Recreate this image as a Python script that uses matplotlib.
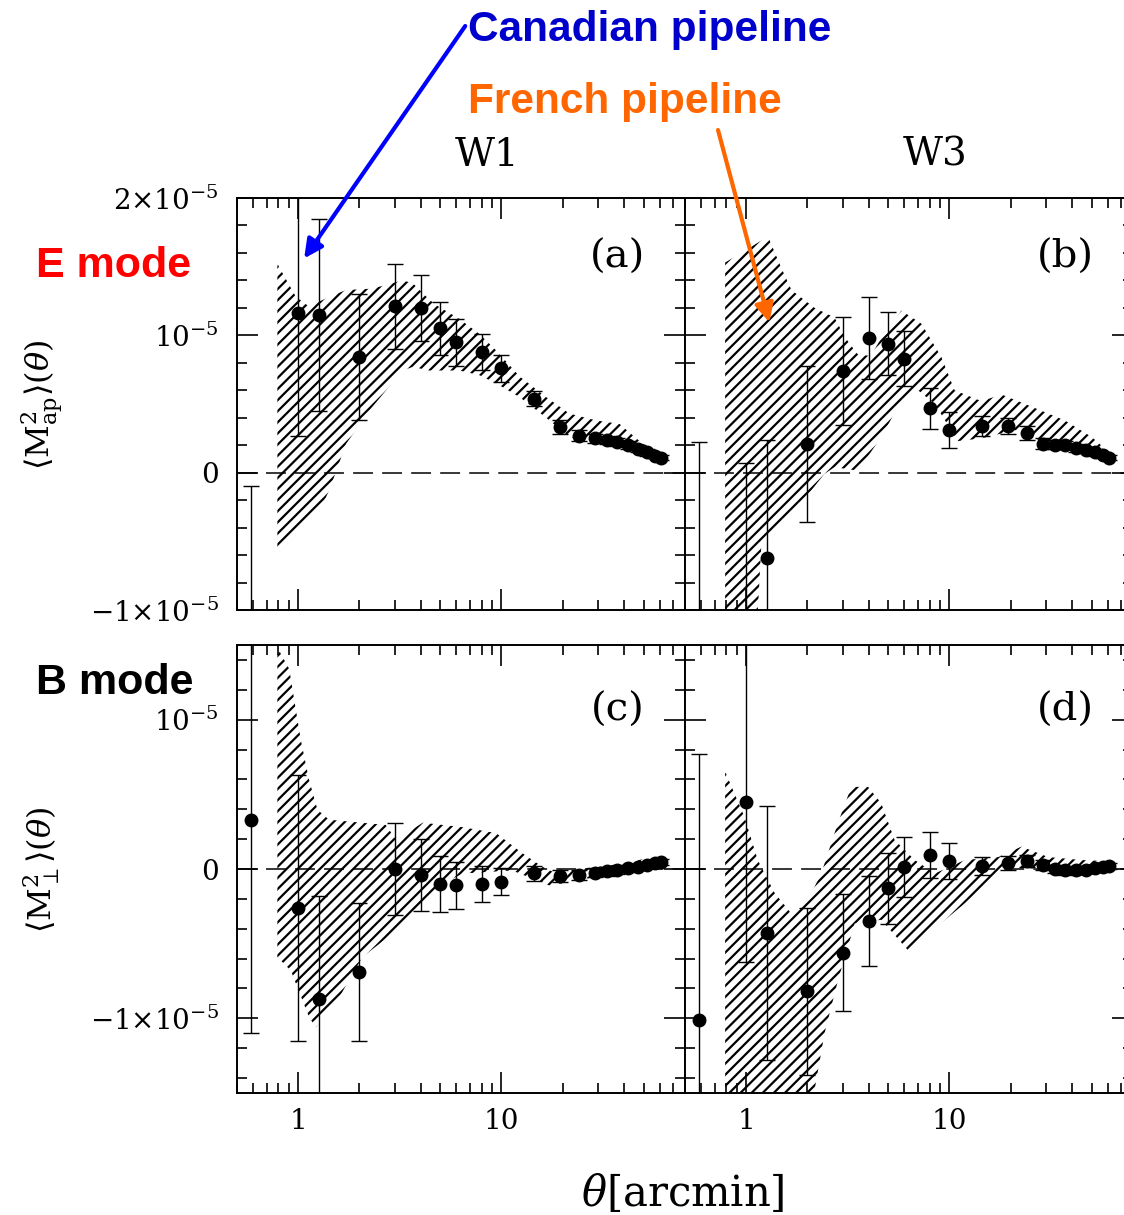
import numpy as np
import matplotlib.pyplot as plt
from matplotlib.ticker import FixedLocator, NullFormatter, FixedFormatter

plt.rcParams['font.family'] = 'DejaVu Serif'
plt.rcParams['mathtext.fontset'] = 'dejavuserif'
plt.rcParams['hatch.linewidth'] = 1.6

SCALE = 1e-5

# Canadian pipeline points (same theta grid in all four panels), units of 1e-5
theta = [0.585, 1.0, 1.26, 2.0, 3.0, 4.0, 5.0, 6.0, 8.0, 10.0, 14.5, 19.5,
         24, 29, 33, 37, 42, 47, 52, 57, 61]

e_w1 = [-1.55, 1.16, 1.15, 0.84, 1.21, 1.20, 1.05, 0.95, 0.88, 0.76, 0.54, 0.33,
        0.27, 0.25, 0.24, 0.225, 0.20, 0.175, 0.15, 0.125, 0.11]
e_w1_err = [1.45, 0.89, 0.70, 0.46, 0.31, 0.24, 0.19, 0.17, 0.13, 0.10, 0.055, 0.05,
            0.04, 0.035, 0.03, 0.03, 0.03, 0.025, 0.025, 0.02, 0.02]

e_w3 = [-1.4, -1.2, -0.62, 0.21, 0.74, 0.98, 0.94, 0.83, 0.47, 0.31, 0.34, 0.34,
        0.29, 0.21, 0.205, 0.20, 0.18, 0.165, 0.15, 0.13, 0.11]
e_w3_err = [1.62, 1.27, 0.86, 0.57, 0.39, 0.30, 0.23, 0.20, 0.15, 0.13, 0.07, 0.06,
            0.05, 0.04, 0.035, 0.03, 0.03, 0.025, 0.025, 0.02, 0.02]

b_w1 = [0.33, -0.26, -0.87, -0.69, 0.0, -0.04, -0.10, -0.11, -0.10, -0.085, -0.03, -0.05,
        -0.04, -0.025, -0.015, -0.01, 0.005, 0.015, 0.027, 0.04, 0.05]
b_w1_err = [1.43, 0.89, 0.69, 0.46, 0.31, 0.24, 0.19, 0.16, 0.12, 0.09, 0.05, 0.04,
            0.035, 0.03, 0.03, 0.025, 0.025, 0.02, 0.02, 0.02, 0.02]

b_w3 = [-1.01, 0.45, -0.43, -0.82, -0.56, -0.35, -0.13, 0.013, 0.094, 0.056, 0.02, 0.04,
        0.056, 0.027, 0.0, -0.007, -0.01, -0.005, 0.006, 0.015, 0.02]
b_w3_err = [1.78, 1.07, 0.85, 0.56, 0.39, 0.30, 0.24, 0.20, 0.155, 0.12, 0.06, 0.05,
            0.04, 0.035, 0.03, 0.03, 0.025, 0.025, 0.02, 0.02, 0.02]

# French pipeline hatched bands: upper and lower edges, units of 1e-5
band_a_up_t = [0.79, 0.975, 1.13, 1.42, 1.72, 2.32, 3.26, 3.66, 4.42, 4.77, 6.21, 7.79,
               9.42, 12.3, 16.6, 21.6, 29.3, 38.1, 47.8, 62.3]
band_a_up = [1.52, 1.28, 1.21, 1.28, 1.33, 1.34, 1.40, 1.38, 1.26, 1.22, 1.12, 1.01,
             0.89, 0.70, 0.55, 0.43, 0.38, 0.355, 0.23, 0.11]
band_a_lo_t = [0.79, 0.975, 1.13, 1.27, 1.42, 1.72, 2.32, 3.26, 3.66, 4.42, 6.21, 7.79,
               9.42, 12.3, 16.6, 21.6, 29.3, 38.1, 47.8, 62.3]
band_a_lo = [-0.59, -0.455, -0.35, -0.28, -0.13, 0.21, 0.48, 0.744, 0.77, 0.744, 0.744, 0.71,
             0.65, 0.55, 0.40, 0.26, 0.23, 0.21, 0.17, 0.06]

band_b_up_t = [0.788, 1.02, 1.28, 1.49, 1.67, 2.17, 2.72, 3.05, 3.42, 3.55, 4.1, 4.62,
               5.8, 7.28, 9.14, 10.6, 14.4, 18.0, 25.4, 37.0, 50.1, 65.2]
band_b_up = [1.53, 1.63, 1.72, 1.49, 1.33, 1.20, 1.13, 0.99, 0.89, 0.86, 0.85, 0.98,
             1.18, 1.085, 0.84, 0.60, 0.52, 0.57, 0.48, 0.38, 0.26, 0.11]
band_b_lo_t = [0.788, 1.02, 1.09, 1.19, 1.49, 2.09, 2.42, 2.72, 3.55, 4.62, 5.58, 6.75,
               8.47, 11.0, 14.4, 21.0, 30.6, 44.7, 65.2]
band_b_lo = [-1.7, -1.7, -1.55, -0.50, -0.37, -0.13, -0.01, 0.04, 0.015, 0.26, 0.48, 0.62,
             0.50, 0.23, 0.25, 0.31, 0.21, 0.16, 0.09]

band_c_up_t = [0.79, 0.80, 0.903, 1.03, 1.13, 1.245, 1.42, 2.70, 3.03, 4.1, 6.45, 9.42,
               12.7, 15.9, 18.6, 24.2, 35.3, 51.8, 62.3]
band_c_up = [1.7, 1.47, 1.34, 0.865, 0.60, 0.396, 0.33, 0.295, 0.195, 0.31, 0.28, 0.24,
             0.105, 0.015, -0.03, 0.0, 0.027, 0.07, 0.08]
band_c_lo_t = [0.79, 0.92, 1.13, 1.22, 1.59, 2.07, 2.92, 3.8, 5.14, 6.45, 11.3, 17.2,
               20.0, 24.2, 35.3, 51.8, 62.3]
band_c_lo = [-0.59, -0.68, -0.99, -1.06, -0.86, -0.59, -0.43, -0.275, -0.10, -0.03, -0.01, -0.11,
             -0.095, -0.07, -0.04, -0.005, 0.005]

band_d_up_t = [0.788, 0.98, 1.14, 1.38, 1.67, 2.01, 2.34, 2.83, 3.29, 3.98, 4.62, 5.37,
               6.75, 8.47, 11.9, 17.4, 22.6, 30.6, 44.7, 65.2]
band_d_up = [0.653, 0.35, 0.06, -0.16, -0.30, -0.21, -0.03, 0.31, 0.55, 0.55, 0.44, 0.195,
             0.06, -0.03, 0.06, 0.08, 0.15, 0.08, 0.06, 0.05]
band_d_lo_t = [0.788, 2.01, 2.17, 2.43, 2.83, 3.42, 4.62, 6.26, 7.28, 8.6, 11.9, 17.4,
               21.0, 30.6, 44.7, 65.2]
band_d_lo = [-1.7, -1.7, -1.48, -1.10, -0.745, -0.365, -0.34, -0.545, -0.48, -0.39, -0.23, -0.03,
             0.015, -0.007, -0.05, -0.007]

panel_tags = ['(a)', '(b)', '(c)', '(d)']
column_titles = ['W1', 'W3']
top_yticks = [-1, 0, 1, 2]
top_ylabels = [r'$-1{\times}10^{-5}$', '0', r'$10^{-5}$', r'$2{\times}10^{-5}$']
bot_yticks = [-1, 0, 1]
bot_ylabels = [r'$-1{\times}10^{-5}$', '0', r'$10^{-5}$']
xticks = [1, 10]
xlabels = ['1', '10']

W, H = 1124, 1215
fig = plt.figure(figsize=(W / 100, H / 100), dpi=100)


def px_axes(x0, y0, x1, y1):
    return fig.add_axes([x0 / W, 1 - y1 / H, (x1 - x0) / W, (y1 - y0) / H])


ax_a = px_axes(237, 198, 685, 610)
ax_b = px_axes(685, 198, 1133, 610)
ax_c = px_axes(237, 645, 685, 1093)
ax_d = px_axes(685, 645, 1133, 1093)

panels = [
    (ax_a, e_w1, e_w1_err, band_a_up_t, band_a_up, band_a_lo_t, band_a_lo),
    (ax_b, e_w3, e_w3_err, band_b_up_t, band_b_up, band_b_lo_t, band_b_lo),
    (ax_c, b_w1, b_w1_err, band_c_up_t, band_c_up, band_c_lo_t, band_c_lo),
    (ax_d, b_w3, b_w3_err, band_d_up_t, band_d_up, band_d_lo_t, band_d_lo),
]

minor_x = [k * 0.1 for k in range(5, 10)] + list(range(2, 10)) + [10 * k for k in range(2, 9)]

for i, (ax, val, err, ut, up, lt, lo) in enumerate(panels):
    top = i < 2
    ax.set_xscale('log')
    ax.set_xlim(0.5, 80)
    if top:
        ax.set_ylim(-1e-5, 2e-5)
    else:
        ax.set_ylim(-1.5e-5, 1.5e-5)

    # hatched French band
    poly_x = np.concatenate([ut, lt[::-1]])
    poly_y = np.concatenate([up, lo[::-1]]) * SCALE
    ax.fill(poly_x, poly_y, facecolor='none', edgecolor='black', hatch='///',
            linewidth=0, zorder=1)

    ax.axhline(0, color='black', lw=1.1, ls=(0, (13, 6)), zorder=2)

    ax.errorbar(theta, np.array(val) * SCALE, yerr=np.array(err) * SCALE,
                fmt='o', color='black', ms=9, elinewidth=1.0, capsize=6,
                capthick=1.0, zorder=3)

    ax.xaxis.set_major_locator(FixedLocator(xticks))
    ax.xaxis.set_minor_locator(FixedLocator(minor_x))
    ax.xaxis.set_minor_formatter(NullFormatter())
    if top:
        yt, yl = top_yticks, top_ylabels
        ymin = [k * 0.2 for k in range(-5, 11)]
    else:
        yt, yl = bot_yticks, bot_ylabels
        ymin = [k * 0.2 for k in range(-7, 8)]
    ax.yaxis.set_major_locator(FixedLocator([v * SCALE for v in yt]))
    ax.yaxis.set_minor_locator(FixedLocator([v * SCALE for v in ymin]))

    if i % 2 == 0:
        ax.yaxis.set_major_formatter(FixedFormatter(yl))
    else:
        ax.yaxis.set_major_formatter(NullFormatter())
    if top:
        ax.xaxis.set_major_formatter(NullFormatter())
    else:
        ax.xaxis.set_major_formatter(FixedFormatter(xlabels))

    ax.tick_params(which='both', direction='in', top=True, right=True, width=1.2)
    ax.tick_params(which='major', length=15, labelsize=20)
    ax.tick_params(which='minor', length=7)
    ax.tick_params(axis='y', pad=13)
    ax.tick_params(axis='x', pad=11)
    for s in ax.spines.values():
        s.set_linewidth(1.4)

    ax.text(0.85, 0.855, panel_tags[i], transform=ax.transAxes,
            ha='center', va='center', fontsize=29)

fig.text(487 / W, 1 - 155 / H, column_titles[0], ha='center', va='center', fontsize=28)
fig.text(935 / W, 1 - 155 / H, column_titles[1], ha='center', va='center', fontsize=28)

fig.text(42 / W, 1 - 405 / H, r'$\langle \mathrm{M}^2_{\rm ap}\rangle(\theta)$',
         rotation=90, ha='center', va='center', fontsize=23)
fig.text(42 / W, 1 - 870 / H, r'$\langle \mathrm{M}^2_{\perp}\rangle(\theta)$',
         rotation=90, ha='center', va='center', fontsize=23)
fig.text(683 / W, 1 - 1193 / H, r'$\theta$[arcmin]', ha='center', va='center', fontsize=30)

sans = ['Liberation Sans', 'DejaVu Sans']
fig.text(36 / W, 1 - 266 / H, 'E mode', color='#ff0000', fontsize=31,
         fontweight='bold', family=sans, ha='left', va='center')
fig.text(36 / W, 1 - 683 / H, 'B mode', color='black', fontsize=31,
         fontweight='bold', family=sans, ha='left', va='center')

ax_a.annotate('Canadian pipeline', xy=(1.07, 1.56e-5), xycoords='data',
              xytext=(468 / W, 1 - 30 / H), textcoords='figure fraction',
              color='#0000cc', fontsize=30.5, fontweight='bold', family=sans,
              ha='left', va='center', annotation_clip=False,
              arrowprops=dict(arrowstyle='-|>', color='#0000ff', lw=3,
                              mutation_scale=28, shrinkA=0, shrinkB=0,
                              relpos=(0.0, 0.7)))
ax_b.annotate('', xy=(1.30, 1.095e-5), xycoords='data',
              xytext=(718 / W, 1 - 130 / H), textcoords='figure fraction',
              annotation_clip=False,
              arrowprops=dict(arrowstyle='-|>', color='#ff6600', lw=3,
                              mutation_scale=28, shrinkA=0, shrinkB=0))
fig.text(468 / W, 1 - 102 / H, 'French pipeline', color='#ff6600', fontsize=30.5,
         fontweight='bold', family=sans, ha='left', va='center')

fig.savefig('out.png', dpi=100)
